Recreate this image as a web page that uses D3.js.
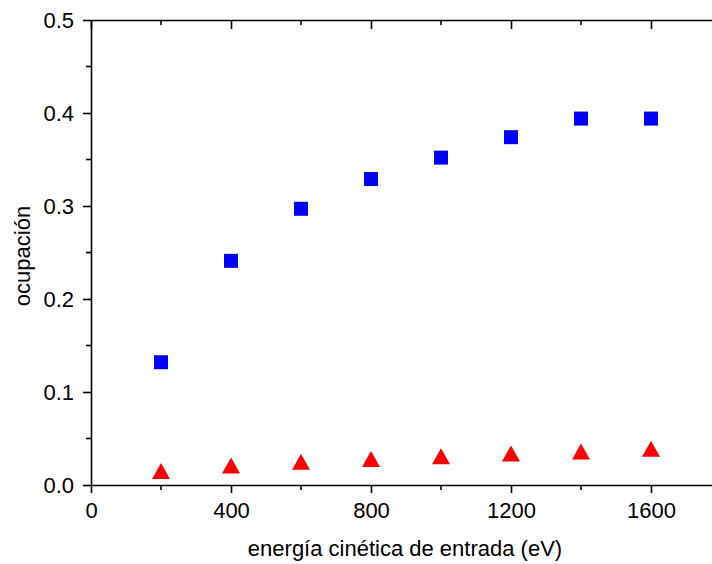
<!DOCTYPE html>
<html><head><meta charset="utf-8">
<script src="https://cdn.jsdelivr.net/npm/d3@7"></script>
<style>body{margin:0;background:#fff}svg{display:block}text{font-family:"Liberation Sans",Arial,sans-serif}</style>
</head><body><svg id="c" width="712" height="564"></svg>
<script>
const energies = [200, 400, 600, 800, 1000, 1200, 1400, 1600];
const squares = [0.132, 0.241, 0.297, 0.329, 0.352, 0.374, 0.394, 0.394];
const triangles = [0.015, 0.021, 0.025, 0.028, 0.031, 0.034, 0.036, 0.039];
const xTicks = [0, 400, 800, 1200, 1600];
const yTicks = [0.0, 0.1, 0.2, 0.3, 0.4, 0.5];
const xLabel = "energía cinética de entrada (eV)";
const yLabel = "ocupación";

const svg = d3.select("#c");
const L = 91, R = 721, T = 20, B = 485;
const x = d3.scaleLinear().domain([0, 1800]).range([L, R]);
const y = d3.scaleLinear().domain([0, 0.5]).range([B, T]);

function styleAxis(g){
  g.attr("font-size",null).attr("font-family",null);
  g.selectAll("path").attr("stroke","#000").attr("stroke-width",1.6);
  g.selectAll("line").attr("stroke","#000").attr("stroke-width",1.6);
  g.selectAll("text").style("font-size","22px").attr("fill","#000");
}
const xMinor = d3.range(200, 1800, 400);
const yMinor = d3.range(0.05, 0.5, 0.1);

// bottom
const gb = svg.append("g").attr("transform",`translate(0,${B})`)
  .call(d3.axisBottom(x).tickValues(xTicks).tickSize(8).tickSizeOuter(0).tickPadding(9).tickFormat(d3.format("d")));
styleAxis(gb);
gb.selectAll(".minor").data(xMinor).enter().append("line").attr("x1",d=>x(d)).attr("x2",d=>x(d)).attr("y1",0).attr("y2",5).attr("stroke","#000").attr("stroke-width",1.6);
// top
const gt = svg.append("g").attr("transform",`translate(0,${T})`)
  .call(d3.axisBottom(x).tickValues(xTicks).tickSize(9).tickSizeOuter(0).tickFormat(""));
styleAxis(gt);
gt.selectAll(".minor").data(xMinor).enter().append("line").attr("x1",d=>x(d)).attr("x2",d=>x(d)).attr("y1",0).attr("y2",5).attr("stroke","#000").attr("stroke-width",1.6);
// left
const gl = svg.append("g").attr("transform",`translate(${L},0)`)
  .call(d3.axisLeft(y).tickValues(yTicks).tickSize(8).tickSizeOuter(0).tickPadding(9).tickFormat(d3.format(".1f")));
styleAxis(gl);
gl.selectAll(".minor").data(yMinor).enter().append("line").attr("x1",0).attr("x2",-5).attr("y1",d=>y(d)).attr("y2",d=>y(d)).attr("stroke","#000").attr("stroke-width",1.6);
// right
const gr = svg.append("g").attr("transform",`translate(${R},0)`)
  .call(d3.axisLeft(y).tickValues(yTicks).tickSize(9).tickSizeOuter(0).tickFormat(""));
styleAxis(gr);
gr.selectAll(".minor").data(yMinor).enter().append("line").attr("x1",0).attr("x2",-5).attr("y1",d=>y(d)).attr("y2",d=>y(d)).attr("stroke","#000").attr("stroke-width",1.6);

// squares
svg.append("g").selectAll("rect").data(energies).enter().append("rect")
  .attr("x",(d)=>x(d)-7).attr("y",(d,i)=>y(squares[i])-7).attr("width",14).attr("height",14).attr("fill","#0000ff");
// triangles
svg.append("g").selectAll("path").data(energies).enter().append("path")
  .attr("d",(d,i)=>{const cx=x(d), cy=y(triangles[i]); return `M${cx},${cy-8}L${cx+9},${cy+8}L${cx-9},${cy+8}Z`;})
  .attr("fill","#ff0000");

svg.append("text").attr("x",405).attr("y",556).attr("text-anchor","middle").style("font-size","22px").text(xLabel);
svg.append("text").attr("transform",`translate(30,256) rotate(-90)`).attr("text-anchor","middle").style("font-size","22px").text(yLabel);
</script></body></html>
